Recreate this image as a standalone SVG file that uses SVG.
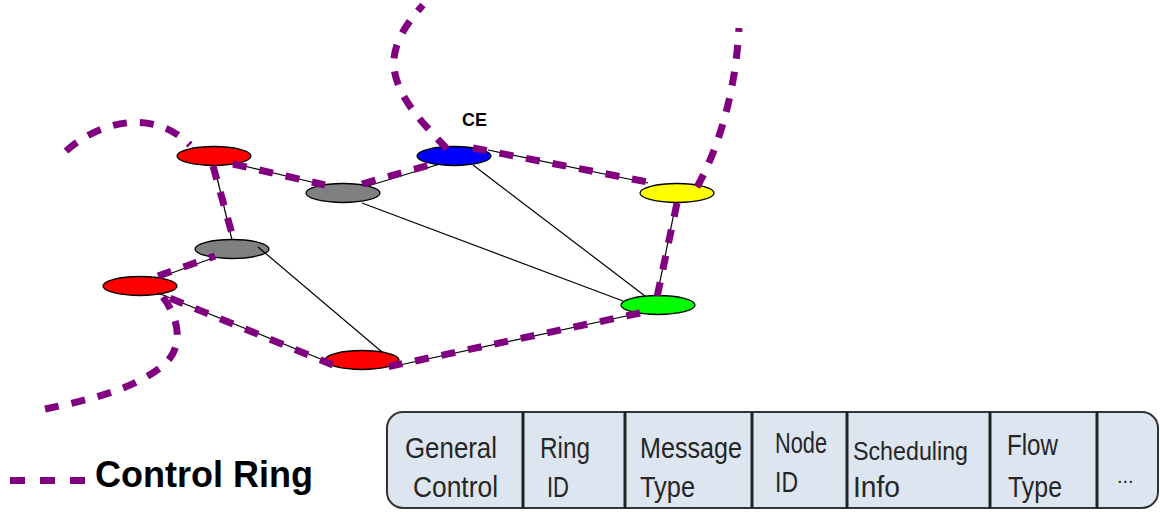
<svg xmlns="http://www.w3.org/2000/svg" width="1160" height="512" viewBox="0 0 1160 512">
<style>
.edge{stroke:#000;stroke-width:1.2;fill:none}
.node{stroke:#000;stroke-width:1.3}
.ring{stroke:#800080;stroke-width:7;fill:none;stroke-dasharray:14 13}
.cell{font-family:"Liberation Sans",Arial,sans-serif;font-size:29px;fill:#262626}
.div{stroke:#222;stroke-width:3}
</style>
<rect width="1160" height="512" fill="#fff"/>
<g id="nodes">
<g id="n-redTL"><ellipse class="node" cx="214" cy="156" rx="37" ry="9.5" fill="#ff0000"/></g>
<g id="n-gray1"><ellipse class="node" cx="343" cy="193" rx="37" ry="9.5" fill="#808080"/></g>
<g id="n-gray2"><ellipse class="node" cx="232" cy="249" rx="37" ry="9.5" fill="#808080"/></g>
<g id="n-redL"><ellipse class="node" cx="140" cy="286" rx="37" ry="9.5" fill="#ff0000"/></g>
<g id="n-CE"><ellipse class="node" cx="454" cy="156" rx="37" ry="9.5" fill="#0000ff"/>
<text x="462" y="126" font-family="Liberation Sans,Arial,sans-serif" font-size="18" font-weight="bold">CE</text></g>
<g id="n-yellow"><ellipse class="node" cx="677" cy="193" rx="37" ry="9.5" fill="#ffff00"/></g>
<g id="n-green"><ellipse class="node" cx="658" cy="305" rx="37" ry="9.5" fill="#00ff00"/></g>
<g id="n-redB"><ellipse class="node" cx="362" cy="360" rx="37" ry="9.5" fill="#ff0000"/></g>
</g>
<g id="connectors">
<line class="edge" x1="240" y1="165" x2="320" y2="184"/>
<line class="edge" x1="214" y1="165" x2="232" y2="240"/>
<line class="edge" x1="368" y1="186" x2="440" y2="164"/>
<line class="edge" x1="488" y1="150" x2="648" y2="183"/>
<line class="edge" x1="362" y1="203" x2="623" y2="301"/>
<line class="edge" x1="473" y1="165" x2="645" y2="296"/>
<line class="edge" x1="213" y1="258" x2="158" y2="278"/>
<line class="edge" x1="258" y1="247" x2="382" y2="352"/>
<line class="edge" x1="158" y1="293" x2="328" y2="362"/>
<line class="edge" x1="395" y1="366" x2="640" y2="313"/>
<line class="edge" x1="676" y1="203" x2="657" y2="296"/>
<g id="control-ring">
<path class="ring" d="M66,151 C95,125 150,105 190,145"/>
<path class="ring" d="M233,164 L325,185"/>
<path class="ring" d="M362,184 L440,162"/>
<path class="ring" d="M447,149 C425,125 398,100 394,68 C392,45 405,25 423,5"/>
<path class="ring" d="M473,148 L658,184"/>
<path class="ring" d="M697,187 C715,155 735,100 739,28"/>
<path class="ring" d="M677,203 L657,297"/>
<path class="ring" d="M640,313 L382,368"/>
<path class="ring" d="M333,365 L160,294"/>
<path class="ring" d="M163,297 C180,320 185,350 160,368 C130,390 90,400 40,410"/>
<path class="ring" d="M158,276 L215,256"/>
<path class="ring" d="M213,166 L234,241"/>
</g>
</g>
<g id="legend">
<line x1="10" y1="480.5" x2="85" y2="480.5" stroke="#800080" stroke-width="7" stroke-dasharray="15 15"/>
<text x="95" y="487" font-family="Liberation Sans,Arial,sans-serif" font-size="36" font-weight="bold" fill="#000">Control Ring</text>
</g>
<g id="header-table">
<rect x="387" y="412" width="771" height="96" rx="16" fill="#dde5f0" stroke="#333" stroke-width="2"/>
<line class="div" x1="523" y1="412" x2="523" y2="508"/>
<line class="div" x1="625" y1="412" x2="625" y2="508"/>
<line class="div" x1="752" y1="412" x2="752" y2="508"/>
<line class="div" x1="847" y1="412" x2="847" y2="508"/>
<line class="div" x1="990" y1="412" x2="990" y2="508"/>
<line class="div" x1="1097" y1="412" x2="1097" y2="508"/>
<text class="cell" x="405" y="458" textLength="92" lengthAdjust="spacingAndGlyphs">General</text>
<text class="cell" x="413" y="497" textLength="85" lengthAdjust="spacingAndGlyphs">Control</text>
<text class="cell" x="540" y="458" textLength="50" lengthAdjust="spacingAndGlyphs">Ring</text>
<text class="cell" x="547" y="497" textLength="22" lengthAdjust="spacingAndGlyphs">ID</text>
<text class="cell" x="640" y="458" textLength="102" lengthAdjust="spacingAndGlyphs">Message</text>
<text class="cell" x="640" y="497" textLength="55" lengthAdjust="spacingAndGlyphs">Type</text>
<text class="cell" x="775" y="453" textLength="52" lengthAdjust="spacingAndGlyphs">Node</text>
<text class="cell" x="775" y="492" textLength="23" lengthAdjust="spacingAndGlyphs">ID</text>
<text class="cell" x="853" y="460" textLength="115" lengthAdjust="spacingAndGlyphs" style="font-size:26px">Scheduling</text>
<text class="cell" x="853" y="497" textLength="47" lengthAdjust="spacingAndGlyphs">Info</text>
<text class="cell" x="1007" y="455" textLength="51" lengthAdjust="spacingAndGlyphs">Flow</text>
<text class="cell" x="1008" y="497" textLength="54" lengthAdjust="spacingAndGlyphs">Type</text>
<text class="cell" x="1117" y="483" style="font-size:20px">...</text>
</g>
</svg>
